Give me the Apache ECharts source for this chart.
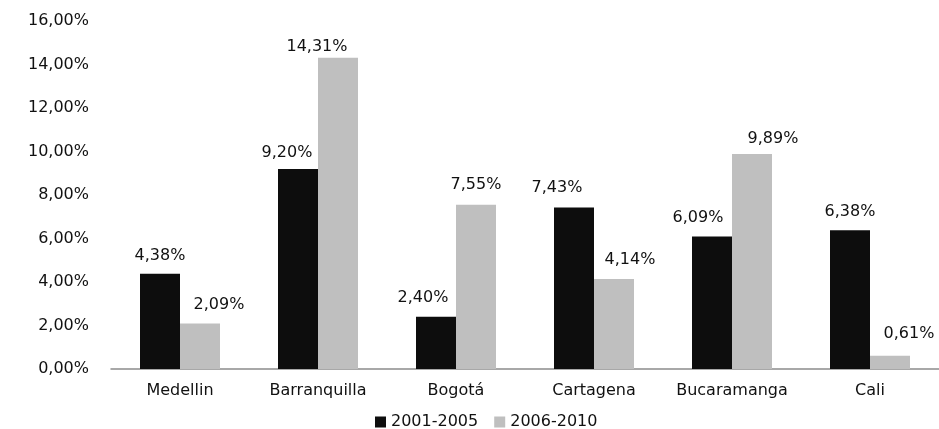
<!DOCTYPE html>
<html><head><meta charset="utf-8">
<script src="https://cdn.jsdelivr.net/npm/echarts@6/dist/echarts.min.js"></script>
<style>html,body{margin:0;padding:0;background:#fff}#c{width:939px;height:429px}</style>
</head><body><div id="c"></div>
<script>
const categories = ['Medellin','Barranquilla','Bogotá','Cartagena','Bucaramanga','Cali'];
const seriesNames = ['2001-2005','2006-2010'];
const values2001_2005 = [4.38, 9.20, 2.40, 7.43, 6.09, 6.38];
const values2006_2010 = [2.09, 14.31, 7.55, 4.14, 9.89, 0.61];
const yTicks = {min: 0, max: 16, interval: 2};

// label placement (styling, not data): horizontal shift and height of label centre above bar top
const labelShift1 = [[0, 18], [-11, 16], [-13, 19], [-17, 20], [-14, 19], [0, 18]];
const labelShift2 = [[19, 19], [-21, 11], [0, 20], [16, 19], [21, 15], [19, 22]];

const fmt = v => v.toFixed(2).replace('.', ',') + '%';
const FONT = 'DejaVu Sans';
const FS = 16;
const chart = echarts.init(document.getElementById('c'), null, {renderer: 'canvas'});
function buildData(vals, shifts) {
  return vals.map((v, i) => ({
    value: v,
    label: {offset: [shifts[i][0], -(shifts[i][1] - FS / 2)]}
  }));
}
const labelStyle = {show: true, position: 'top', distance: 0, color: '#111', fontFamily: FONT,
  fontSize: FS, lineHeight: FS, formatter: p => fmt(p.value)};
chart.setOption({
  animation: false,
  backgroundColor: '#fff',
  grid: {left: 111, top: 21, width: 842, height: 348},
  legend: {
    left: 375, top: 414, padding: 0, itemWidth: 11, itemHeight: 11, itemGap: 16,
    icon: 'rect',
    textStyle: {fontFamily: FONT, fontSize: FS, color: '#111', lineHeight: FS},
    data: seriesNames
  },
  xAxis: {
    type: 'category', data: categories,
    axisLine: {lineStyle: {color: '#8c8c8c', width: 1.5}},
    axisTick: {show: false},
    axisLabel: {interval: 0, fontFamily: FONT, fontSize: FS, color: '#111', margin: 14}
  },
  yAxis: {
    type: 'value', min: yTicks.min, max: yTicks.max, interval: yTicks.interval,
    axisLine: {show: false}, axisTick: {show: false}, splitLine: {show: false},
    axisLabel: {fontFamily: FONT, fontSize: FS, color: '#111', margin: 22, formatter: fmt}
  },
  series: [
    {name: seriesNames[0], type: 'bar', data: buildData(values2001_2005, labelShift1), barWidth: 40, barGap: '0%',
     itemStyle: {color: '#0d0d0d'}, label: labelStyle},
    {name: seriesNames[1], type: 'bar', data: buildData(values2006_2010, labelShift2), barWidth: 40, barGap: '0%',
     itemStyle: {color: '#bfbfbf'}, label: labelStyle}
  ]
});
</script></body></html>
